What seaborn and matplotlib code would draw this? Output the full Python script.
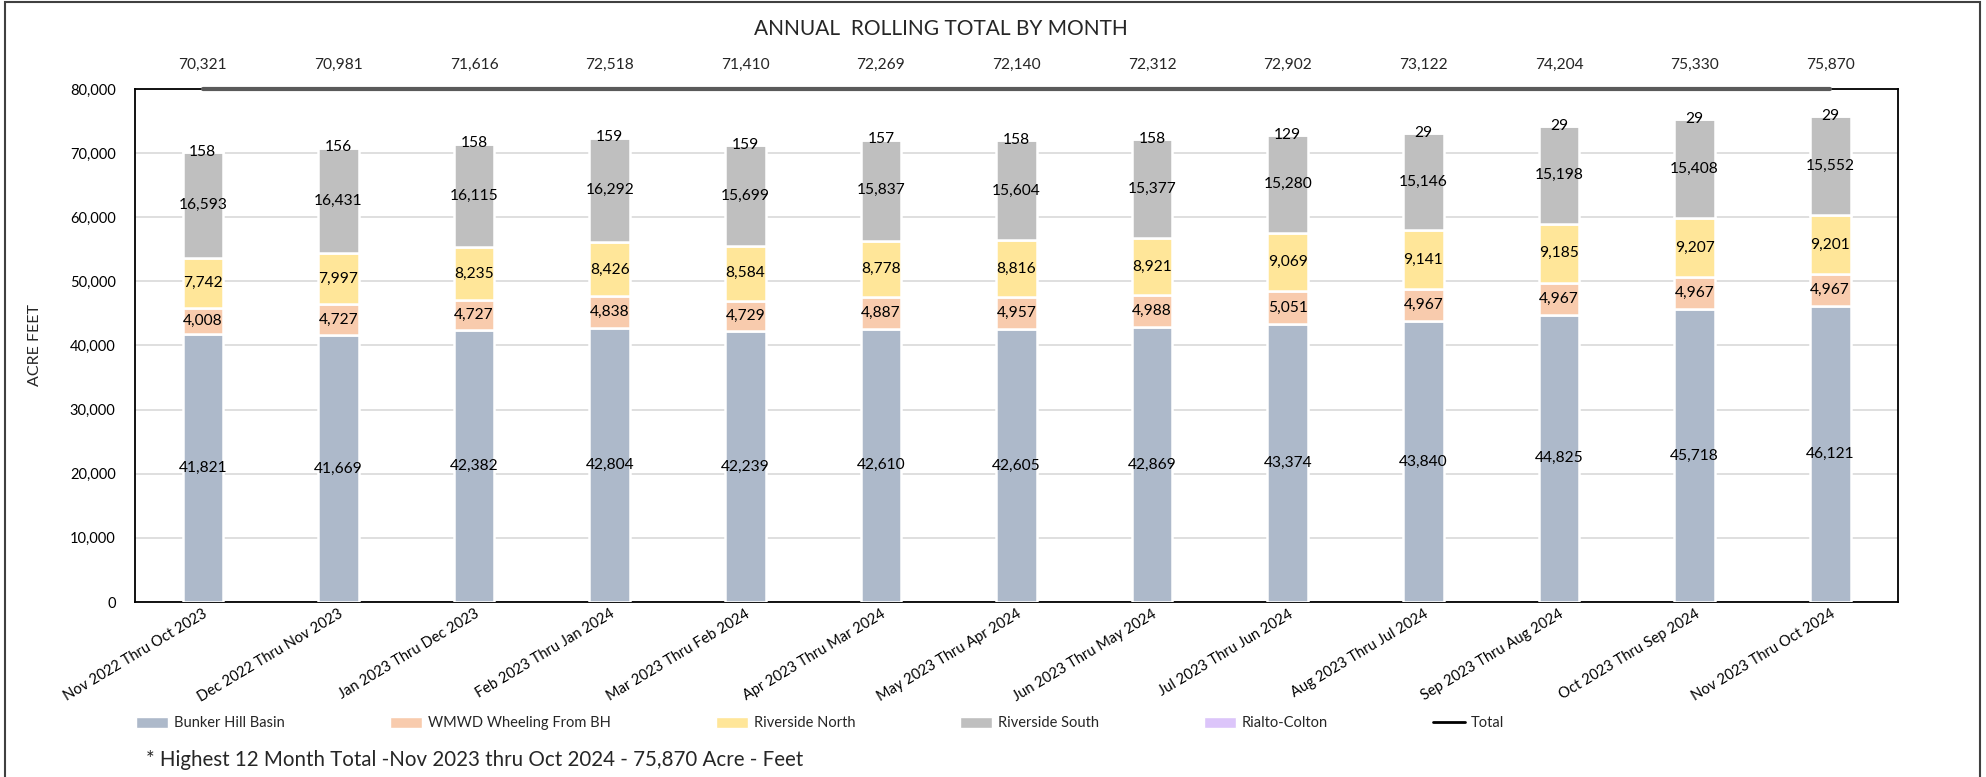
import numpy as np
import matplotlib
matplotlib.use("Agg")
import matplotlib.pyplot as plt
from matplotlib.patches import Patch, Rectangle
from matplotlib.lines import Line2D
from matplotlib.ticker import FuncFormatter
import seaborn as sns

periods = ["Nov 2022 Thru Oct 2023", "Dec 2022 Thru Nov 2023", "Jan 2023 Thru Dec 2023",
           "Feb 2023 Thru Jan 2024", "Mar 2023 Thru Feb 2024", "Apr 2023 Thru Mar 2024",
           "May 2023 Thru Apr 2024", "Jun 2023 Thru May 2024", "Jul 2023 Thru Jun 2024",
           "Aug 2023 Thru Jul 2024", "Sep 2023 Thru Aug 2024", "Oct 2023 Thru Sep 2024",
           "Nov 2023 Thru Oct 2024"]
bunker_hill = [41821, 41669, 42382, 42804, 42239, 42610, 42605, 42869, 43374, 43840, 44825, 45718, 46121]
wmwd = [4008, 4727, 4727, 4838, 4729, 4887, 4957, 4988, 5051, 4967, 4967, 4967, 4967]
riverside_north = [7742, 7997, 8235, 8426, 8584, 8778, 8816, 8921, 9069, 9141, 9185, 9207, 9201]
riverside_south = [16593, 16431, 16115, 16292, 15699, 15837, 15604, 15377, 15280, 15146, 15198, 15408, 15552]
rialto_colton = [158, 156, 158, 159, 159, 157, 158, 158, 129, 29, 29, 29, 29]
totals = [70321, 70981, 71616, 72518, 71410, 72269, 72140, 72312, 72902, 73122, 74204, 75330, 75870]

series = [("Bunker Hill Basin", bunker_hill, "#ADB9CA"),
          ("WMWD Wheeling From BH", wmwd, "#F8CBAD"),
          ("Riverside North", riverside_north, "#FFE699"),
          ("Riverside South", riverside_south, "#BFBFBF"),
          ("Rialto-Colton", rialto_colton, "#DCC5FA")]

sns.set_style("white")
plt.rcParams["font.family"] = ["Lato", "DejaVu Sans"]

fig = plt.figure(figsize=(19.86, 7.77), dpi=100)
ax = fig.add_axes([0.068, 0.2252, 0.8877, 0.6603])

bottom = np.zeros(len(periods))
for name, vals, col in series:
    sns.barplot(x=periods, y=vals, bottom=bottom, color=col, width=0.3, errorbar=None,
                edgecolor="white", linewidth=1.8, saturation=1, ax=ax, zorder=3)
    ax.bar_label(ax.containers[-1], labels=[f"{v:,}" for v in vals], label_type="center",
                 fontsize=11.2, color="black", zorder=5)
    bottom = bottom + np.array(vals)

ax.set_ylim(0, 80000)
ax.set_xlim(-0.5, len(periods) - 0.5)
ax.yaxis.set_major_locator(plt.MultipleLocator(10000))
ax.yaxis.set_major_formatter(FuncFormatter(lambda v, p: f"{int(v):,}"))
ax.grid(axis="y", color="#D9D9D9", linewidth=1.2, zorder=0)
ax.set_axisbelow(True)
for s in ax.spines.values():
    s.set_color("black")
    s.set_linewidth(1.3)
ax.tick_params(axis="both", length=0, labelsize=10.5, colors="black")
ax.tick_params(axis="y", pad=14)
plt.setp(ax.get_xticklabels(), rotation=31, ha="right", rotation_mode="anchor")
ax.set_xlabel("")
ax.set_ylabel("ACRE FEET", fontsize=11.5, labelpad=20)

# total line on a secondary scale (sits on top edge) plus labels above
ax2 = ax.twinx()
ax2.set_ylim(0, 70000)
ax2.plot(np.arange(len(periods)), np.minimum(totals, 70000), color="#5a5a5a",
         linewidth=3, clip_on=False, zorder=6)
ax2.set_yticks([])
for s in ax2.spines.values():
    s.set_visible(False)
for i, t in enumerate(totals):
    ax.annotate(f"{t:,}", xy=(i, 1.047), xycoords=("data", "axes fraction"),
                ha="center", va="center", fontsize=11.2)

fig.text(0.474, 0.963, "ANNUAL  ROLLING TOTAL BY MONTH", ha="center", va="center", fontsize=15)

handles = [Patch(facecolor=c, label=n) for n, _, c in series]
handles.append(Line2D([0], [0], color="black", linewidth=2, label="Total"))
fig.legend(handles=handles, loc="center left", bbox_to_anchor=(0.062, 0.069), ncol=6,
           frameon=False, fontsize=10.5, handlelength=2.2, handleheight=0.8,
           handletextpad=0.4, columnspacing=7.2)

fig.text(0.0735, 0.022, "* Highest 12 Month Total -Nov 2023 thru Oct 2024 - 75,870 Acre - Feet",
         ha="left", va="center", fontsize=14.8)

fig.patches.append(Rectangle((0.0025, -0.01), 0.9945, 1.007, transform=fig.transFigure,
                             fill=False, edgecolor="#404040", linewidth=1.5))

fig.savefig("out.png", dpi=100)
